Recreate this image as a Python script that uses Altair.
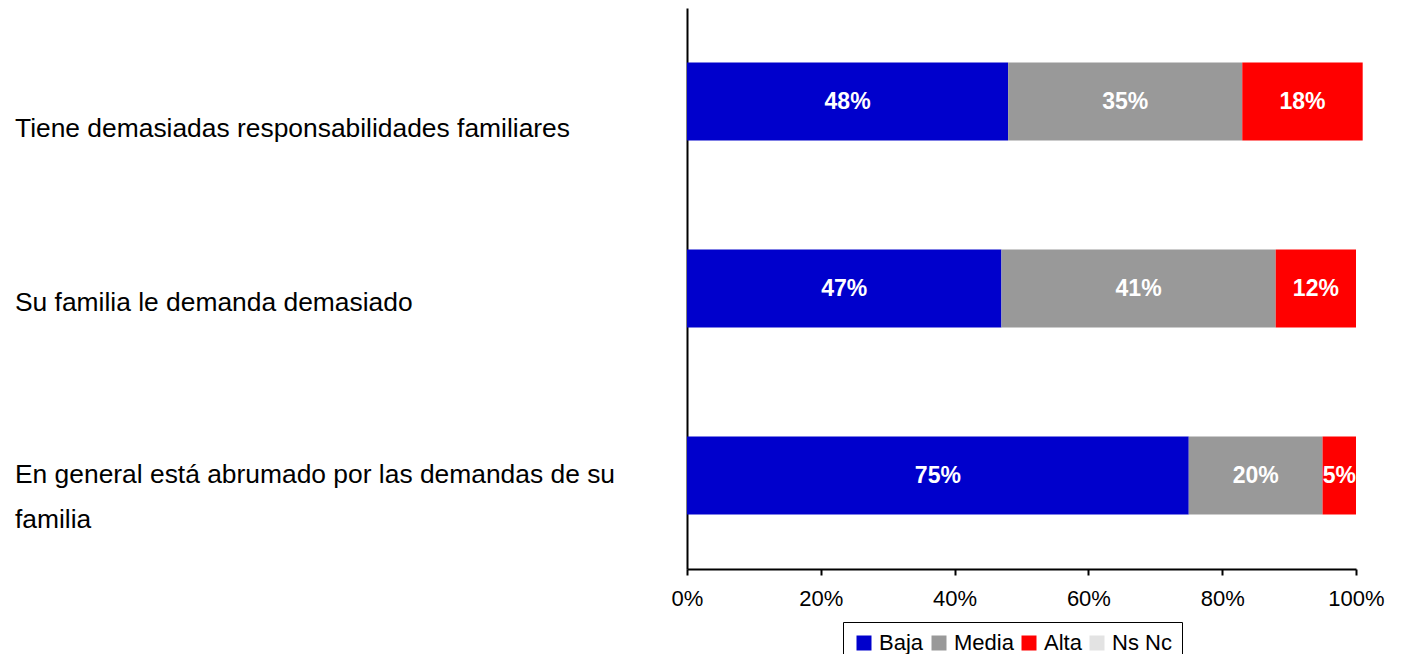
import altair as alt
import pandas as pd

categories = [
    "Tiene demasiadas responsabilidades familiares",
    "Su familia le demanda demasiado",
    "En general está abrumado por las demandas de su familia",
]
category_lines = [
    "Tiene demasiadas responsabilidades familiares",
    "Su familia le demanda demasiado",
    "En general está abrumado por las demandas de su\nfamilia",
]
levels = ["Baja", "Media", "Alta", "Ns Nc"]
colors = ["#0000CC", "#999999", "#FF0000", "#E3E3E3"]
baja = [48, 47, 75]
media = [35, 41, 20]
alta = [18, 12, 5]
nsnc = [0, 0, 0]
tick_values = [0, 0.2, 0.4, 0.6, 0.8, 1.0]

FONT = "Liberation Sans, Arial, sans-serif"

rows = []
for i, c in enumerate(categories):
    for k, (lvl, vals) in enumerate(zip(levels, [baja, media, alta, nsnc])):
        rows.append({"categoria": c, "nivel": lvl, "orden": k, "valor": vals[i] / 100})
df = pd.DataFrame(rows)
df_lab = pd.DataFrame({"categoria": categories, "texto": category_lines})

x_scale = alt.Scale(domain=[0, 1], nice=False)
y_scale = alt.Scale(paddingInner=0.583, paddingOuter=0.2915)

bars = alt.Chart(df).mark_bar().encode(
    x=alt.X(
        "valor:Q",
        stack="zero",
        scale=x_scale,
        axis=alt.Axis(
            values=tick_values,
            format=".0%",
            title=None,
            grid=False,
            labelFlush=False,
            domainColor="black",
            domainWidth=2,
            tickColor="black",
            tickWidth=2,
            tickSize=6,
            labelFontSize=22,
            labelFont=FONT,
            labelColor="black",
            labelPadding=13,
        ),
    ),
    y=alt.Y(
        "categoria:N",
        sort=categories,
        scale=y_scale,
        axis=alt.Axis(labels=False, ticks=False, title=None, grid=False,
                      domainColor="black", domainWidth=2),
    ),
    color=alt.Color(
        "nivel:N",
        scale=alt.Scale(domain=levels, range=colors),
        legend=alt.Legend(
            orient="none",
            legendX=156,
            legendY=614,
            direction="horizontal",
            title=None,
            strokeColor="black",
            padding=10,
            symbolType="square",
            symbolSize=225,
            symbolStrokeWidth=0,
            symbolOpacity=1,
            labelFontSize=22,
            labelFont=FONT,
            labelColor="black",
            labelOffset=4,
            columnPadding=4,
        ),
    ),
    order=alt.Order("orden:Q"),
)

values_text = (
    alt.Chart(df)
    .transform_filter("datum.valor > 0")
    .transform_stack(
        stack="valor",
        as_=["x0", "x1"],
        groupby=["categoria"],
        sort=[alt.SortField("orden", order="ascending")],
    )
    .transform_calculate(mid="(datum.x0 + datum.x1) / 2", txt="format(datum.valor, '.0%')")
    .mark_text(color="white", fontWeight="bold", fontSize=23, font=FONT, baseline="middle")
    .encode(
        x=alt.X("mid:Q", scale=x_scale),
        y=alt.Y("categoria:N", sort=categories),
        text="txt:N",
    )
)

label_dy = [35.5, 22.5, 7.5]
cat_layers = []
for c, dy in zip(categories, label_dy):
    cat_layers.append(
        alt.Chart(df_lab)
        .transform_filter(alt.datum.categoria == c)
        .mark_text(align="left", baseline="alphabetic", dy=dy, fontSize=26.4, font=FONT,
                   color="black", lineBreak="\n", lineHeight=45)
        .encode(
            x=alt.value(-672),
            y=alt.Y("categoria:N", sort=categories),
            text="texto:N",
        )
    )

chart = (
    alt.layer(bars, values_text, *cat_layers)
    .properties(
        width=669,
        height=561,
        autosize=alt.AutoSizeParams(type="none"),
        padding={"left": 679, "top": 0, "right": 39, "bottom": 85},
    )
    .configure_view(stroke=None)
)

chart.save("out.html", embed_options={"renderer": "svg", "actions": False})
